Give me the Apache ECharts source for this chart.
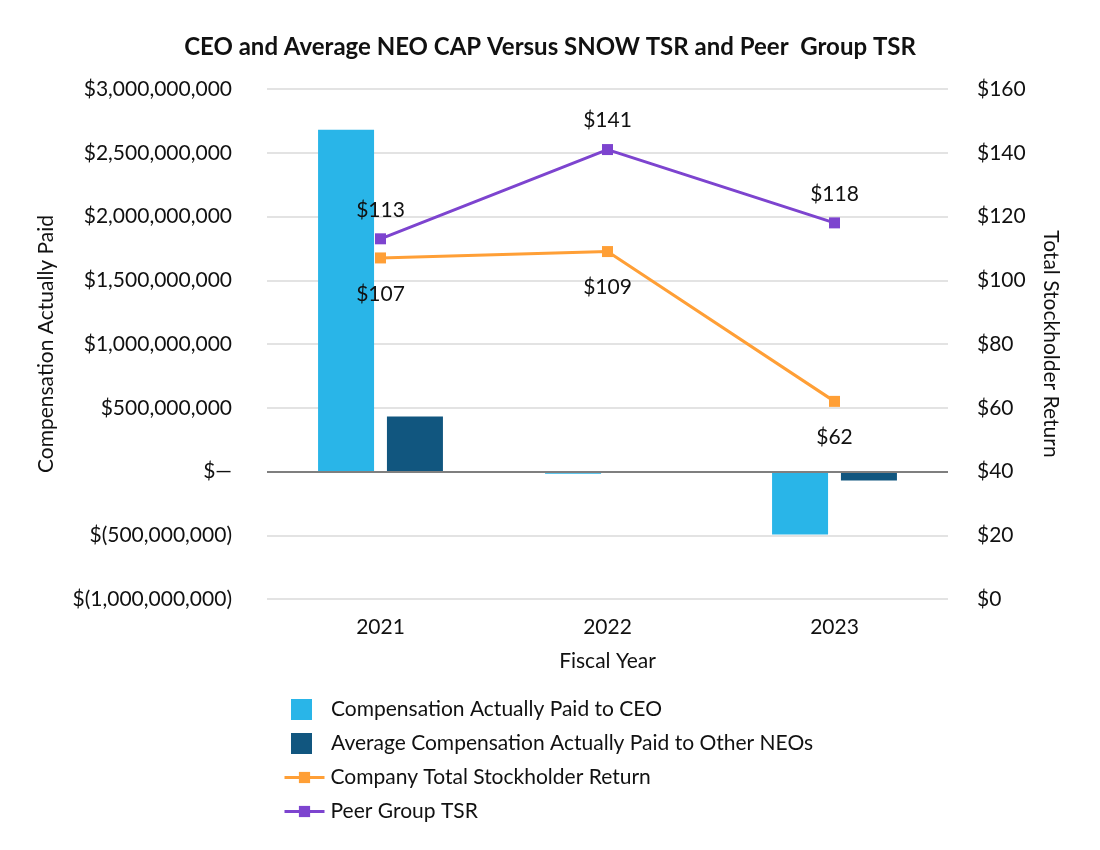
<!DOCTYPE html>
<html>
<head>
<meta charset="utf-8">
<script src="https://cdn.jsdelivr.net/npm/echarts@6/dist/echarts.min.js"></script>
<style>html,body{margin:0;padding:0;background:#fff}#c{width:1100px;height:850px}</style>
</head>
<body>
<div id="c"></div>
<script>
const years = ['2021', '2022', '2023'];
const ceoCap = [2680000000, -18000000, -495000000];
const neoCap = [432000000, -2000000, -70000000];
const companyTsr = [107, 109, 62];
const peerTsr = [113, 141, 118];
const leftTicks = { min: -1000000000, max: 3000000000, interval: 500000000 };
const rightTicks = { min: 0, max: 160, interval: 20 };

const FONT = 'Lato';
const TXT = '#111';
const FS = 21;

function fmtMoney(v) {
  if (v === 0) return '$\u2014';
  const s = Math.abs(v).toLocaleString('en-US');
  return v < 0 ? '$(' + s + ')' : '$' + s;
}

const chart = echarts.init(document.getElementById('c'));
chart.setOption({
  backgroundColor: '#fff',
  animation: false,
  textStyle: { fontFamily: FONT, color: TXT },
  title: {
    text: 'CEO and Average NEO CAP Versus SNOW TSR and Peer  Group TSR',
    left: 'center', top: 30,
    textStyle: { fontFamily: FONT, fontWeight: 'bold', fontSize: 24, color: TXT }
  },
  grid: { left: 267, right: 152, top: 89, bottom: 251 },
  legend: [
    {
      orient: 'vertical', left: 291, top: 699, padding: 0,
      itemWidth: 21, itemHeight: 21, itemGap: 13, icon: 'rect',
      data: ['Compensation Actually Paid to CEO', 'Average Compensation Actually Paid to Other NEOs'],
      textStyle: { fontFamily: FONT, fontSize: FS, color: TXT, padding: [0, 0, 0, 14] }
    },
    {
      orient: 'vertical', left: 283, top: 767, padding: 0,
      itemWidth: 40, itemHeight: 14, itemGap: 13,
      lineStyle: { width: 3 },
      data: ['Company Total Stockholder Return', 'Peer Group TSR'],
      textStyle: { fontFamily: FONT, fontSize: FS, color: TXT, padding: [0, 0, 0, 1] }
    }
  ],
  xAxis: {
    type: 'category', data: years,
    axisLine: { show: false }, axisTick: { show: false },
    axisLabel: { fontFamily: FONT, fontSize: FS, color: TXT, margin: 18 },
    name: 'Fiscal Year', nameLocation: 'middle', nameGap: 52,
    nameTextStyle: { fontFamily: FONT, fontSize: FS, color: TXT }
  },
  yAxis: [
    {
      type: 'value', min: leftTicks.min, max: leftTicks.max, interval: leftTicks.interval,
      axisLine: { show: false }, axisTick: { show: false },
      axisLabel: { fontFamily: FONT, fontSize: FS, color: TXT, margin: 35, formatter: fmtMoney },
      splitLine: { lineStyle: { color: '#e3e3e3', width: 2 } },
      name: 'Compensation Actually Paid', nameLocation: 'middle', nameGap: 210, nameRotate: 90,
      nameTextStyle: { fontFamily: FONT, fontSize: FS, color: TXT }
    },
    {
      type: 'value', position: 'right', min: rightTicks.min, max: rightTicks.max, interval: rightTicks.interval,
      axisLine: { show: false }, axisTick: { show: false },
      axisLabel: { fontFamily: FONT, fontSize: FS, color: TXT, margin: 29, formatter: v => '$' + v },
      splitLine: { show: false },
      name: 'Total Stockholder Return', nameLocation: 'middle', nameGap: 92, nameRotate: -90,
      nameTextStyle: { fontFamily: FONT, fontSize: FS, color: TXT }
    }
  ],
  series: [
    {
      name: 'Compensation Actually Paid to CEO', type: 'bar', yAxisIndex: 0,
      data: ceoCap, barWidth: 56, barGap: '23%',
      itemStyle: { color: '#29B5E8' },
      markLine: {
        silent: true, symbol: 'none', label: { show: false },
        lineStyle: { color: '#7f7f7f', width: 2, type: 'solid' },
        data: [{ yAxis: 0 }]
      }
    },
    {
      name: 'Average Compensation Actually Paid to Other NEOs', type: 'bar', yAxisIndex: 0,
      data: neoCap, barWidth: 56,
      itemStyle: { color: '#11567F' }
    },
    {
      name: 'Company Total Stockholder Return', type: 'line', yAxisIndex: 1,
      data: companyTsr, symbol: 'rect', symbolSize: 11,
      lineStyle: { color: '#FF9F36', width: 3 }, itemStyle: { color: '#FF9F36' },
      label: { show: true, position: 'bottom', distance: 20, fontFamily: FONT, fontSize: FS, color: TXT, formatter: p => '$' + p.value },
      z: 5
    },
    {
      name: 'Peer Group TSR', type: 'line', yAxisIndex: 1,
      data: peerTsr, symbol: 'rect', symbolSize: 11,
      lineStyle: { color: '#7D44CF', width: 3 }, itemStyle: { color: '#7D44CF' },
      label: { show: true, position: 'top', distance: 13, fontFamily: FONT, fontSize: FS, color: TXT, formatter: p => '$' + p.value },
      z: 5
    }
  ]
});
</script>
</body>
</html>
